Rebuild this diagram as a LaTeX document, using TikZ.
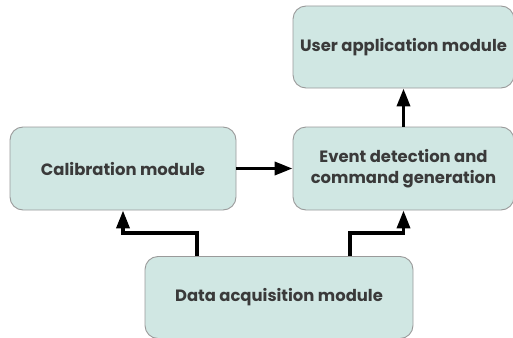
\documentclass[tikz,border=0pt]{standalone}
\usepackage{fontspec}
\setmainfont{Poppins}[UprightFont=* Bold, BoldFont=* Bold]
\usetikzlibrary{arrows.meta}
\definecolor{boxfill}{HTML}{D0E7E3}
\definecolor{boxline}{HTML}{9A9A9A}
\definecolor{txt}{HTML}{3A3A3A}
\begin{document}
\begin{tikzpicture}[x=1pt,y=-1pt,
  module/.style={draw=boxline, line width=0.9pt, fill=boxfill, rounded corners=13pt,
    text=txt, font=\fontsize{16.4}{21.5}\selectfont, align=center, inner sep=0pt},
  flow/.style={line width=3.5pt, -{Triangle[length=18pt,width=13pt]}}]
\useasboundingbox (0,0) rectangle (513,337);
\node[module, minimum width=226pt, minimum height=83pt] (cal) at (123,168.5) {Calibration module};
\node[module, minimum width=221pt, minimum height=83pt] (evt) at (403.5,168.5) {Event detection and\\command generation};
\node[module, minimum width=221pt, minimum height=82pt] (usr) at (403.5,47) {User application module};
\node[module, minimum width=268pt, minimum height=82pt] (dat) at (279,297.5) {Data acquisition module};
\coordinate (c1) at (197,233);
\coordinate (c2) at (350,233);
\draw[flow] (cal.east) -- (evt.west);
\draw[flow] (evt.north) -- (usr.south);
\draw[flow] (dat.north -| c1) -- (c1) -| (cal.south);
\draw[flow] (dat.north -| c2) -- (c2) -| (evt.south);
\end{tikzpicture}
\end{document}
